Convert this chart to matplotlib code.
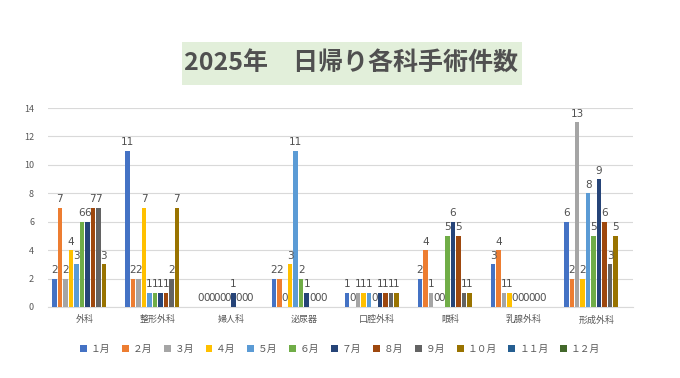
import matplotlib
matplotlib.use("Agg")
import matplotlib.pyplot as plt
import numpy as np
from matplotlib.patches import Patch, Rectangle

plt.rcParams['font.family'] = ['Noto Sans CJK JP', 'DejaVu Sans']

categories = ["外科", "整形外科", "婦人科", "泌尿器", "口腔外科", "眼科", "乳腺外科", "形成外科"]
months = ["１月", "２月", "３月", "４月", "５月", "６月", "７月", "８月", "９月", "１０月", "１１月", "１２月"]

m01 = [2, 11, 0, 2, 1, 2, 3, 6]
m02 = [7, 2, 0, 2, 0, 4, 4, 2]
m03 = [2, 2, 0, 0, 1, 1, 1, 13]
m04 = [4, 7, 0, 3, 1, 0, 1, 2]
m05 = [3, 1, 0, 11, 1, 0, 0, 8]
m06 = [6, 1, 0, 2, 0, 5, 0, 5]
m07 = [6, 1, 1, 1, 1, 6, 0, 9]
m08 = [7, 1, 0, 0, 1, 5, 0, 6]
m09 = [7, 2, 0, 0, 1, 1, 0, 3]
m10 = [3, 7, 0, 0, 1, 1, 0, 5]
m11 = [None] * 8
m12 = [None] * 8
series = [m01, m02, m03, m04, m05, m06, m07, m08, m09, m10, m11, m12]

colors = ["#4472C4", "#ED7D31", "#A5A5A5", "#FFC000", "#5B9BD5", "#70AD47",
          "#264478", "#9E480E", "#636363", "#997300", "#255E91", "#43682B"]

fig = plt.figure(figsize=(6.8, 3.78), dpi=100)
ax = fig.add_axes([48/680, 1-307/378, (633-48)/680, (307-108)/378])

x = np.arange(len(categories))
slot = 0.9 / 12
bw = slot * 0.82
for i, (vals, c) in enumerate(zip(series, colors)):
    pos = x - 0.45 + slot * (i + 0.5)
    for xp, v in zip(pos, vals):
        if v is None:
            continue
        ax.bar(xp, v, width=bw, color=c, zorder=3)
        ax.text(xp, v + 0.25, str(v), ha='center', va='bottom', fontsize=7.5,
                color='#505050', family=['DejaVu Sans'], zorder=4)

ax.set_xlim(-0.5, len(categories) - 0.5)
ax.set_ylim(0, 14)
ax.set_yticks(range(0, 15, 2))
ax.set_xticks(x)
ax.set_xticklabels(categories, fontsize=6.5, color='#595959')
ax.tick_params(axis='y', labelsize=6.5, labelcolor='#595959', length=0, pad=10)
ax.tick_params(axis='x', length=0, pad=6)
ax.grid(axis='y', color='#D9D9D9', linewidth=0.8, zorder=0)
for s in ['top', 'right', 'left']:
    ax.spines[s].set_visible(False)
ax.spines['bottom'].set_color('#D9D9D9')

fig.patches.append(Rectangle((182/680, 1-85/378), 340/680, 43/378,
                             transform=fig.transFigure, facecolor='#E2EFDA',
                             edgecolor='none', zorder=0))
fig.text(351/680, 1-63.5/378, "2025年　日帰り各科手術件数", ha='center', va='center',
         fontsize=18, fontweight='bold', color='#505050')

handles = [Patch(facecolor=c, edgecolor='none') for c in colors]
fig.legend(handles, months, loc='center', bbox_to_anchor=(340/680, 1-349/378), ncol=12,
           frameon=False, fontsize=7, handlelength=0.7, handleheight=0.7,
           handletextpad=0.4, columnspacing=1.2, labelcolor='#595959')

fig.savefig("out.png", dpi=100)
